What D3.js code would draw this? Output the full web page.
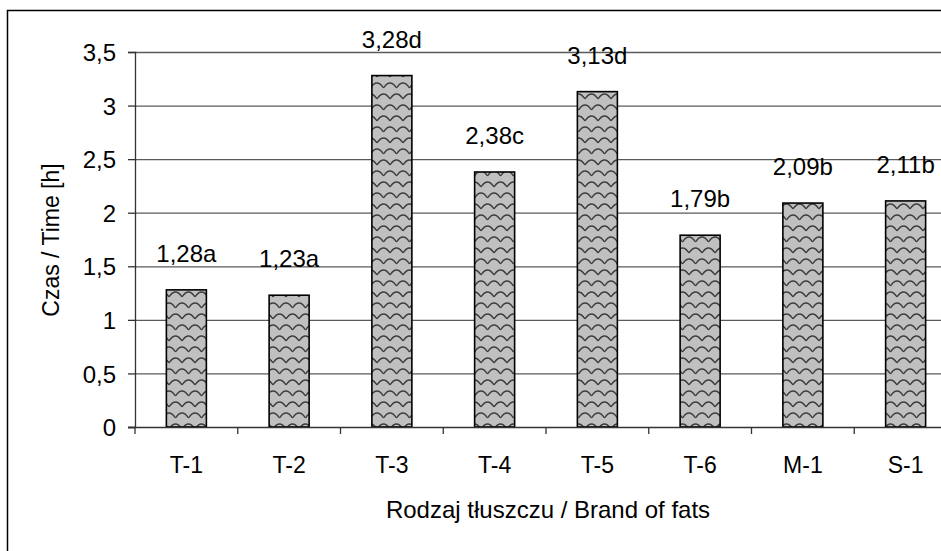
<!DOCTYPE html>
<html>
<head>
<meta charset="utf-8">
<script src="https://cdn.jsdelivr.net/npm/d3@7"></script>
<style>
  body { margin: 0; background: #fff; }
  text { font-family: "Liberation Sans", Arial, sans-serif; fill: #000; }
</style>
</head>
<body>
<div id="viz"></div>
<script>
const width = 941;
const height = 551;
const margin = {top: 52, left: 135, bottom: 124, right: -16};

const categories = ['T-1', 'T-2', 'T-3', 'T-4', 'T-5', 'T-6', 'M-1', 'S-1'];
const values = [1.28, 1.23, 3.28, 2.38, 3.13, 1.79, 2.09, 2.11];
const letters = ['a', 'a', 'd', 'c', 'd', 'b', 'b', 'b'];
const yTicks = [0, 0.5, 1, 1.5, 2, 2.5, 3, 3.5];

const svg = d3.select('#viz')
  .append('svg')
    .attr('width', width)
    .attr('height', height);

// scale-like pattern for the bars
const defs = svg.append('defs');
const pat = defs.append('pattern')
  .attr('id', 'scales')
  .attr('patternUnits', 'userSpaceOnUse')
  .attr('width', 13)
  .attr('height', 22);
pat.append('rect').attr('width', 13).attr('height', 22).attr('fill', '#c0c0c0');
pat.append('path')
  .attr('d', 'M0,11 Q6.5,1 13,11 M-6.5,22 Q0,12 6.5,22 M6.5,22 Q13,12 19.5,22 M-6.5,0 Q0,-10 6.5,0 M6.5,0 Q13,-10 19.5,0')
  .attr('fill', 'none')
  .attr('stroke', '#3c3c3c')
  .attr('stroke-width', 1.3);

// outer frame
svg.append('rect')
  .attr('x', 7.5)
  .attr('y', 10.5)
  .attr('width', 960)
  .attr('height', 600)
  .attr('fill', 'none')
  .attr('stroke', '#000')
  .attr('stroke-width', 1.5);

const x = d3.scaleBand()
  .domain(categories)
  .range([margin.left, width - margin.right])
  .paddingInner(0);

const y = d3.scaleLinear()
  .domain([0, 3.5])
  .range([height - margin.bottom, margin.top]);

// gridlines
svg.append('g')
  .selectAll('line')
  .data(yTicks.filter(d => d > 0))
  .join('line')
    .attr('x1', margin.left)
    .attr('x2', width - margin.right)
    .attr('y1', d => y(d) + 0.5)
    .attr('y2', d => y(d) + 0.5)
    .attr('stroke', '#5a5a5a')
    .attr('stroke-width', 1.3);

// y axis
const yAxis = svg.append('g')
  .attr('transform', `translate(${margin.left},0)`)
  .call(d3.axisLeft(y).tickValues(yTicks).tickSize(7).tickPadding(12)
    .tickFormat(d => String(d).replace('.', ',')));
yAxis.select('.domain').attr('stroke', '#333').attr('stroke-width', 1.3);
yAxis.selectAll('.tick line').attr('stroke', '#333').attr('stroke-width', 1.3);
yAxis.selectAll('.tick text')
  .attr('dy', '0.36em')
  .style('font-size', '24px')
  .style('font-family', '"Liberation Sans", Arial, sans-serif');

// bars
const barW = 40;
svg.append('g')
  .selectAll('rect')
  .data(values)
  .join('rect')
    .attr('x', (d, i) => x(categories[i]) + x.bandwidth() / 2 - barW / 2)
    .attr('y', d => y(d))
    .attr('width', barW)
    .attr('height', d => y(0) - y(d))
    .attr('fill', 'url(#scales)')
    .attr('stroke', '#000')
    .attr('stroke-width', 1.6);

// value labels
svg.append('g')
  .selectAll('text')
  .data(values)
  .join('text')
    .attr('x', (d, i) => x(categories[i]) + x.bandwidth() / 2)
    .attr('y', d => y(d) - 28)
    .attr('text-anchor', 'middle')
    .style('font-size', '24px')
    .text((d, i) => d.toFixed(2).replace('.', ',') + letters[i]);

// x axis
const xAxis = svg.append('g')
  .attr('transform', `translate(0,${y(0)})`);
xAxis.append('line')
  .attr('x1', margin.left - 7)
  .attr('x2', width - margin.right)
  .attr('y1', 0.5)
  .attr('y2', 0.5)
  .attr('stroke', '#333')
  .attr('stroke-width', 1.3);
xAxis.selectAll('line.tk')
  .data(categories)
  .join('line')
    .attr('class', 'tk')
    .attr('x1', d => x(d))
    .attr('x2', d => x(d))
    .attr('y1', 0)
    .attr('y2', 7)
    .attr('stroke', '#333')
    .attr('stroke-width', 1.3);
xAxis.selectAll('text')
  .data(categories)
  .join('text')
    .attr('x', d => x(d) + x.bandwidth() / 2)
    .attr('y', 46)
    .attr('text-anchor', 'middle')
    .style('font-size', '23px')
    .text(d => d);

// axis titles
svg.append('text')
  .attr('x', 548)
  .attr('y', 518)
  .attr('text-anchor', 'middle')
  .style('font-size', '24px')
  .text('Rodzaj tłuszczu / Brand of fats');

svg.append('text')
  .attr('transform', `translate(59,240) rotate(-90)`)
  .attr('text-anchor', 'middle')
  .style('font-size', '23px')
  .text('Czas / Time [h]');
</script>
</body>
</html>
